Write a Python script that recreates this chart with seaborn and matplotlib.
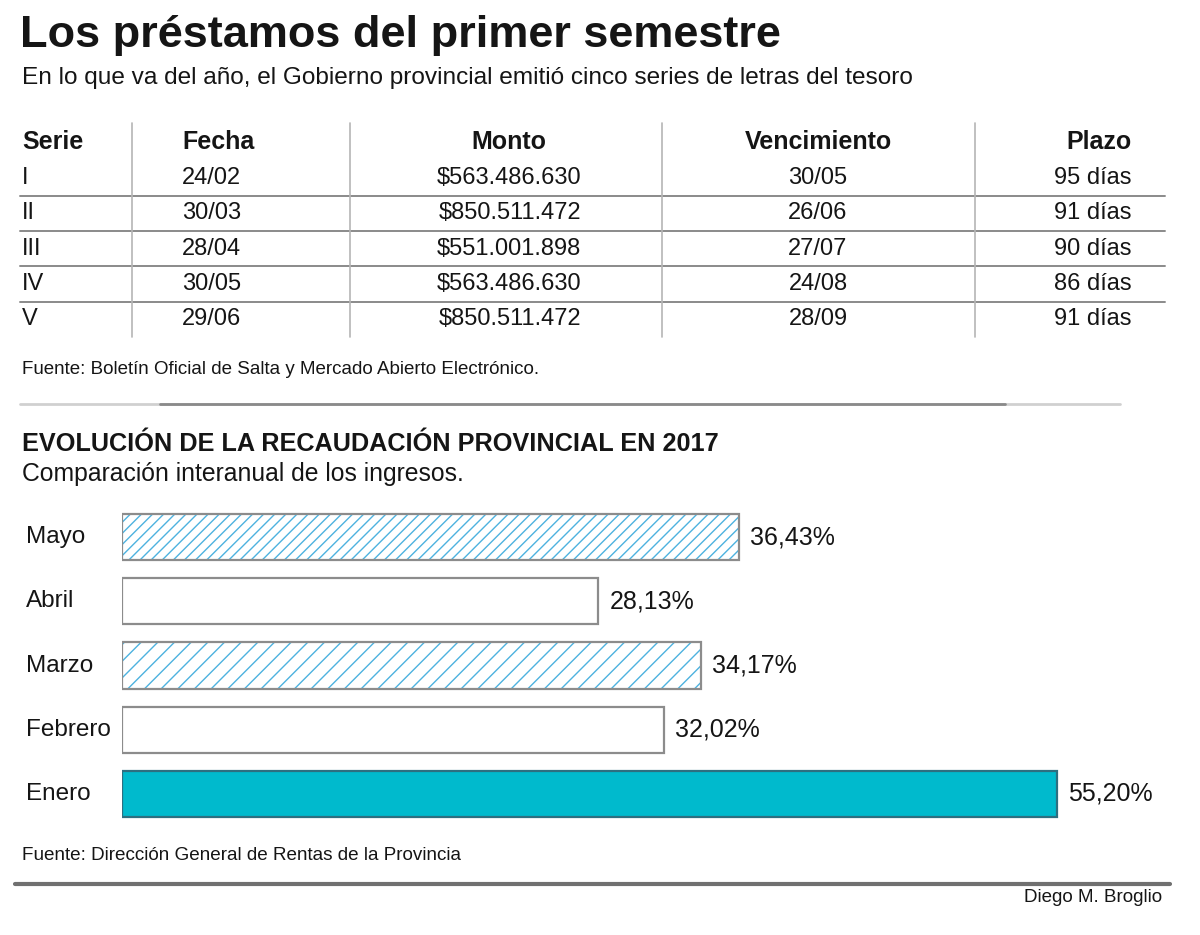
import matplotlib
matplotlib.use('Agg')
import matplotlib.pyplot as plt
import matplotlib.transforms as mtransforms
import seaborn as sns
import pandas as pd

# table data
series = ['I', 'II', 'III', 'IV', 'V']
fechas = ['24/02', '30/03', '28/04', '30/05', '29/06']
montos = ['$563.486.630', '$850.511.472', '$551.001.898', '$563.486.630', '$850.511.472']
vencimientos = ['30/05', '26/06', '27/07', '24/08', '28/09']
plazos = ['95 días', '91 días', '90 días', '86 días', '91 días']

# bar chart data (top to bottom)
meses = ['Mayo', 'Abril', 'Marzo', 'Febrero', 'Enero']
recaudacion = [36.43, 28.13, 34.17, 32.02, 55.20]

sns.set_style('white')
plt.rcParams['font.family'] = ['Liberation Sans', 'DejaVu Sans']
plt.rcParams['hatch.linewidth'] = 1.0

TXT = '#151515'
HATCH = '#4db2df'
EDGE = '#8c8c8c'
TEAL = '#00bacd'

fig = plt.figure(figsize=(12, 9.35), dpi=100)

# overlay canvas in pixel units for texts and rules
cv = fig.add_axes([0, 0, 1, 1])
cv.set_xlim(0, 1200)
cv.set_ylim(935, 0)
cv.axis('off')

cv.text(20, 47, 'Los préstamos del primer semestre', fontsize=32.5, fontweight='bold',
        color=TXT, va='baseline')
cv.text(22, 84, 'En lo que va del año, el Gobierno provincial emitió cinco series de letras del tesoro',
        fontsize=17.6, color=TXT, va='baseline')

# table header
hy = 142
hfs = 18
cv.text(22, hy, 'Serie', fontsize=hfs, fontweight='bold', va='center', color=TXT)
cv.text(182, hy, 'Fecha', fontsize=hfs, fontweight='bold', va='center', color=TXT)
cv.text(509, hy, 'Monto', fontsize=hfs, fontweight='bold', va='center', ha='center', color=TXT)
cv.text(818, hy, 'Vencimiento', fontsize=hfs, fontweight='bold', va='center', ha='center', color=TXT)
cv.text(1132, hy, 'Plazo', fontsize=hfs, fontweight='bold', va='center', ha='right', color=TXT)

row_h = 35.3
vfs = 17
for i in range(len(series)):
    y = 178 + i * row_h
    cv.text(22, y, series[i], fontsize=vfs, va='center', color=TXT)
    cv.text(182, y, fechas[i], fontsize=vfs, va='center', color=TXT)
    cv.text(581, y, montos[i], fontsize=vfs, va='center', ha='right', color=TXT)
    cv.text(818, y, vencimientos[i], fontsize=vfs, va='center', ha='center', color=TXT)
    cv.text(1132, y, plazos[i], fontsize=vfs, va='center', ha='right', color=TXT)
    if i > 0:
        cv.plot([20, 1165], [y - row_h / 2, y - row_h / 2], color='#8a8a8a', lw=1.4)

for vx in [132, 350, 662, 975]:
    cv.plot([vx, vx], [123, 337], color='#b5b5b5', lw=1.2)

cv.text(22, 370, 'Fuente: Boletín Oficial de Salta y Mercado Abierto Electrónico.',
        fontsize=13.5, va='center', color=TXT)

cv.plot([20, 1120], [404, 404], color='#d0d0d0', lw=2)
cv.plot([160, 1005], [404, 404], color='#8a8a8a', lw=2)

cv.text(22, 444, 'EVOLUCIÓN DE LA RECAUDACIÓN PROVINCIAL EN 2017', fontsize=18.2,
        fontweight='bold', va='center', color=TXT)
cv.text(22, 474, 'Comparación interanual de los ingresos.', fontsize=17.8,
        va='center', color=TXT)

cv.text(22, 856, 'Fuente: Dirección General de Rentas de la Provincia', fontsize=13.6,
        va='center', color=TXT)
cv.plot([15, 1170], [884, 884], color='#707070', lw=3)
cv.text(1162, 898, 'Diego M. Broglio', fontsize=13.5, va='center', ha='right', color=TXT)

# bar chart
df = pd.DataFrame({'mes': meses, 'valor': recaudacion})
ax = fig.add_axes([122 / 1200, 1 - 826 / 935, 1016 / 1200, 321 / 935])
sns.barplot(data=df, x='valor', y='mes', order=meses, color='white', width=0.72,
            saturation=1, ax=ax)
sns.barplot(data=df, x='valor', y='mes', order=meses, color='white', width=0.72,
            saturation=1, ax=ax)

fills = ax.containers[0]
outlines = ax.containers[1]
for bar, mes in zip(fills, meses):
    bar.set_linewidth(0)
    if mes in ('Mayo', 'Marzo'):
        bar.set_facecolor('white')
        bar.set_edgecolor(HATCH)
        bar.set_hatch('///' if mes == 'Mayo' else '//')
    elif mes == 'Enero':
        bar.set_facecolor(TEAL)
        bar.set_edgecolor(TEAL)
for bar, mes in zip(outlines, meses):
    bar.set_facecolor('none')
    bar.set_edgecolor('#2d6f80' if mes == 'Enero' else EDGE)
    bar.set_linewidth(1.6)

labels = [f'{v:.2f}'.replace('.', ',') + '%' for v in recaudacion]
ax.bar_label(outlines, labels=labels, padding=8, fontsize=18, color=TXT)

trans = mtransforms.blended_transform_factory(fig.transFigure, ax.transData)
for i, mes in enumerate(meses):
    ax.text(26 / 1200, i, mes, transform=trans, fontsize=17.5, va='center', color=TXT)

ax.set_xlim(0, 60)
ax.set_ylim(4.5, -0.5)
ax.set_xlabel('')
ax.set_ylabel('')
ax.set_xticks([])
ax.set_yticks([])
sns.despine(ax=ax, left=True, bottom=True)

fig.savefig('out.png', dpi=100)
